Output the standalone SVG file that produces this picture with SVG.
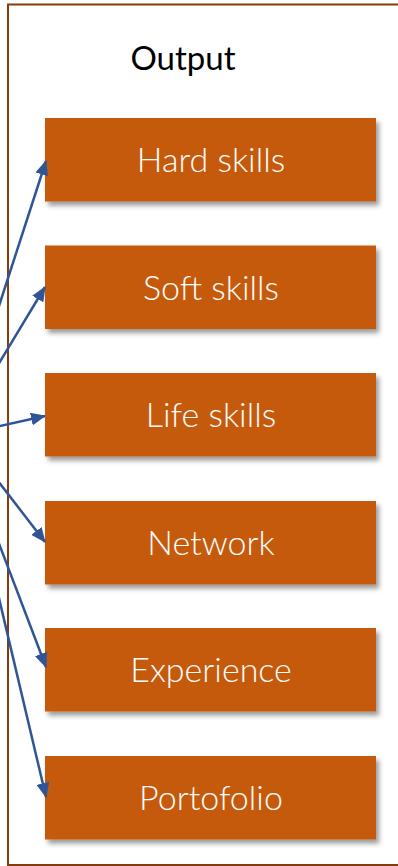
<svg xmlns="http://www.w3.org/2000/svg" width="398" height="866" viewBox="0 0 398 866">
<style>
.box{fill:#C55A11;filter:url(#sh)}
.lbl{font-family:Lato,"Liberation Sans",sans-serif;font-size:34px;fill:#FFFFFF;text-anchor:middle;font-weight:300}
.ttl{font-family:Lato,"Liberation Sans",sans-serif;font-size:33px;fill:#000000;text-anchor:middle}
.con{stroke:#2F5597;stroke-width:2.5;fill:none;marker-end:url(#ah)}
</style>
<defs>
<filter id="sh" x="-10%" y="-20%" width="125%" height="150%">
<feDropShadow dx="3" dy="4" stdDeviation="2.5" flood-color="#000" flood-opacity="0.4"/>
</filter>
<marker id="ah" markerUnits="userSpaceOnUse" markerWidth="15" markerHeight="13" refX="14" refY="6.5" orient="auto">
<path d="M0,0 L15,6.5 L0,13 Z" fill="#2F5597"/>
</marker>
</defs>
<g id="frame">
<path d="M400,4.5 L8,4.5 L8,865 L400,865" fill="none" stroke="#843C0C" stroke-width="2"/>
</g>
<g id="title"><text class="ttl" x="183" y="70">Output</text></g>
<g id="n1"><rect class="box" x="45" y="118" width="331" height="83.5"/><text class="lbl" x="211" y="172">Hard skills</text></g>
<g id="n2"><rect class="box" x="45" y="245.5" width="331" height="83.5"/><text class="lbl" x="211" y="299.5">Soft skills</text></g>
<g id="n3"><rect class="box" x="45" y="373" width="331" height="83.5"/><text class="lbl" x="211" y="427">Life skills</text></g>
<g id="n4"><rect class="box" x="45" y="501" width="331" height="83.5"/><text class="lbl" x="211" y="555">Network</text></g>
<g id="n5"><rect class="box" x="45" y="628" width="331" height="83.5"/><text class="lbl" x="211" y="682">Experience</text></g>
<g id="n6"><rect class="box" x="45" y="756" width="331" height="83.5"/><text class="lbl" x="211" y="810">Portofolio</text></g>
<g id="connectors">
<line class="con" x1="-2" y1="309" x2="46" y2="161"/>
<line class="con" x1="-2" y1="365" x2="45" y2="287"/>
<line class="con" x1="-2" y1="426.5" x2="45" y2="416"/>
<line class="con" x1="-2" y1="481" x2="45" y2="542"/>
<line class="con" x1="-2" y1="541" x2="46" y2="667"/>
<line class="con" x1="-2" y1="594" x2="46" y2="797"/>
</g>
</svg>
